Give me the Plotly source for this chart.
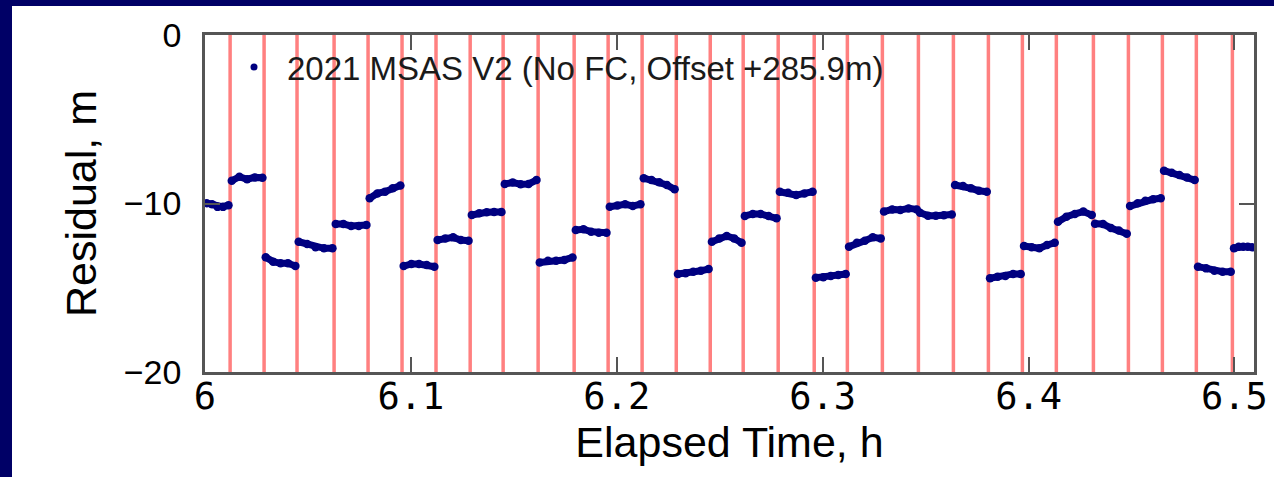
import plotly.graph_objects as go

# Red marker lines (elapsed time, h)
line_times = [6.0122, 6.0287, 6.0447, 6.0627, 6.0792, 6.0957, 6.1122, 6.1288,
              6.1448, 6.1618, 6.1793, 6.1958, 6.2123, 6.2289, 6.2454, 6.2614,
              6.2784, 6.2959, 6.3120, 6.3290, 6.3465, 6.3635, 6.3805, 6.3970,
              6.4135, 6.4315, 6.4485, 6.4650, 6.4815, 6.4990]
data_start = 6.0
data_end = 6.5095

# Residual samples (m) within each one-minute segment
segment_values = [
    [-9.98, -10.05, -10.20, -10.20, -10.10],
    [-8.65, -8.41, -8.56, -8.45, -8.47],
    [-13.19, -13.45, -13.55, -13.55, -13.71],
    [-12.27, -12.40, -12.60, -12.66, -12.66],
    [-11.22, -11.22, -11.33, -11.33, -11.28],
    [-9.69, -9.40, -9.30, -9.10, -8.93],
    [-13.71, -13.59, -13.59, -13.65, -13.75],
    [-12.17, -12.07, -12.01, -12.17, -12.21],
    [-10.68, -10.58, -10.52, -10.50, -10.50],
    [-8.84, -8.76, -8.86, -8.84, -8.61],
    [-13.50, -13.40, -13.40, -13.35, -13.20],
    [-11.57, -11.53, -11.67, -11.73, -11.73],
    [-10.19, -10.12, -10.05, -10.15, -10.05],
    [-8.50, -8.61, -8.74, -8.90, -9.16],
    [-14.18, -14.14, -14.05, -13.99, -13.89],
    [-12.27, -12.07, -11.93, -12.07, -12.33],
    [-10.74, -10.62, -10.62, -10.74, -10.88],
    [-9.30, -9.36, -9.50, -9.40, -9.30],
    [-14.40, -14.38, -14.30, -14.24, -14.18],
    [-12.56, -12.33, -12.21, -12.01, -12.07],
    [-10.48, -10.35, -10.39, -10.29, -10.35],
    [-10.55, -10.72, -10.72, -10.70, -10.65],
    [-8.90, -8.96, -9.10, -9.24, -9.30],
    [-14.44, -14.34, -14.30, -14.18, -14.18],
    [-12.52, -12.60, -12.66, -12.46, -12.33],
    [-11.08, -10.78, -10.62, -10.48, -10.68],
    [-11.20, -11.22, -11.45, -11.60, -11.80],
    [-10.15, -9.99, -9.83, -9.75, -9.69],
    [-8.05, -8.17, -8.31, -8.45, -8.61],
    [-13.75, -13.85, -13.99, -14.05, -14.05],
    [-12.66, -12.56, -12.56, -12.56, -12.60],
]

x_ticks = [6, 6.1, 6.2, 6.3, 6.4, 6.5]
y_ticks = [-20, -10, 0]
series_name = "2021 MSAS V2 (No FC, Offset +285.9m)"

NAVY_BG = "#000066"
DOT = "#000080"

# Build sample times: uniform sampling inside each segment
starts = [data_start] + line_times
ends = line_times + [data_end]
xs, ys = [], []
pad = 0.0008
for s, e, vals in zip(starts, ends, segment_values):
    n = len(vals)
    for i, v in enumerate(vals):
        xs.append(s + pad + (e - s - 2 * pad) * i / (n - 1))
        ys.append(v)
    xs.append(None)
    ys.append(None)

fig = go.Figure()
fig.add_trace(go.Scatter(
    x=xs, y=ys, mode="lines+markers",
    line=dict(color=DOT, width=7),
    marker=dict(color=DOT, size=8.5),
    showlegend=False, hoverinfo="skip",
))
fig.add_trace(go.Scatter(
    x=[None], y=[None], mode="markers", name=series_name,
    marker=dict(color=DOT, size=7),
))

L, R, T, B = 205, 20, 35, 105
W, H = 1274, 477
pw, ph = W - L - R, H - T - B

shapes = [dict(
    type="rect", xref="paper", yref="paper", layer="below",
    x0=(12 - L) / pw, x1=(W - L) / pw + 0.01,
    y0=-(B + 5) / ph, y1=(H - B - 6) / ph,
    fillcolor="white", line=dict(width=0),
)]
for t in line_times:
    shapes.append(dict(
        type="line", xref="x", yref="paper", layer="below",
        x0=t, x1=t, y0=0, y1=1,
        line=dict(color="#ff8080", width=3.5),
    ))

axis_common = dict(
    showline=True, linecolor="#555555", linewidth=2.5, mirror="ticks",
    ticks="inside", ticklen=15, tickwidth=2, tickcolor="#555555",
    showgrid=False, zeroline=False,
)

fig.update_layout(
    width=W, height=H,
    margin=dict(l=L, r=R, t=T, b=B, autoexpand=False),
    paper_bgcolor=NAVY_BG, plot_bgcolor="white",
    shapes=shapes,
    showlegend=True,
    legend=dict(
        x=(221 - L) / pw, y=(H - B - 67) / ph, xanchor="left", yanchor="middle",
        bgcolor="rgba(0,0,0,0)", borderwidth=0, itemwidth=56,
        font=dict(family="Liberation Sans, Arial", size=33, color="#1a1a1a"),
    ),
    xaxis=dict(
        range=[6, 6.5095], tickvals=x_ticks, ticktext=[str(v) for v in x_ticks],
        tickfont=dict(family="DejaVu Sans Mono", size=37, color="black"),
        ticklabelstandoff=-10,
        title=dict(text="Elapsed Time, h", standoff=7,
                   font=dict(family="Liberation Sans, Arial", size=43, color="black")),
        **axis_common,
    ),
    yaxis=dict(
        range=[-20, 0], tickvals=y_ticks, ticktext=["\u221220", "\u221210", "0"],
        tickfont=dict(family="Liberation Sans, Arial", size=34, color="black"),
        ticklabelstandoff=14,
        title=dict(text="Residual, m", standoff=14,
                   font=dict(family="Liberation Sans, Arial", size=43, color="black")),
        **axis_common,
    ),
)

fig.write_html("out.html")
